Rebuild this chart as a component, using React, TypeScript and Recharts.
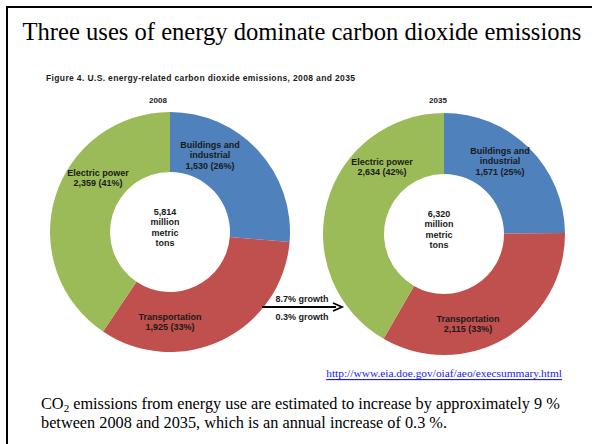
import React from "react"
import { PieChart, Pie, Cell } from "recharts"

const sectors = ["Buildings and industrial", "Transportation", "Electric power"]
const labelLines = [["Buildings and", "industrial"], ["Transportation"], ["Electric power"]]
const colors = ["#4F81BD", "#C0504D", "#9BBB59"]
const values2008 = [1530, 1925, 2359]
const values2035 = [1571, 2115, 2634]
const totals = ["5,814", "6,320"]
const years = ["2008", "2035"]

const data2008 = sectors.map((name, i) => ({ name, value: values2008[i] }))
const data2035 = sectors.map((name, i) => ({ name, value: values2035[i] }))

// where each slice label block sits, relative to the donut centre
const offsets2008 = [[40, -77], [0, 90], [-72, -54]]
const offsets2035 = [[56, -73], [24, 90], [-62, -67]]

const txt = "#1a1a1a"
const sans = "'Liberation Sans', Arial, sans-serif"
const serif = "'Liberation Serif', 'Times New Roman', serif"

function makeLabel(values: number[], offsets: number[][]) {
  const total = values.reduce((a, b) => a + b, 0)
  return (props: any) => {
    const { cx, cy, index } = props
    const lines = [
      ...labelLines[index],
      `${values[index].toLocaleString("en-US")} (${Math.round((values[index] / total) * 100)}%)`,
    ]
    const [dx, dy] = offsets[index]
    const top = cy + dy - ((lines.length - 1) * 10.5) / 2
    return (
      <text
        key={`l-${index}`}
        x={cx + dx}
        textAnchor="middle"
        fontFamily={sans}
        fontWeight="bold"
        fontSize={9}
        fill={txt}
      >
        {lines.map((t, j) => (
          <tspan key={j} x={cx + dx} y={top + j * 10.5} dominantBaseline="central">
            {t}
          </tspan>
        ))}
      </text>
    )
  }
}

export default function App() {
  const centres = [
    [165, 227],
    [439, 229],
  ]
  return (
    <div style={{ position: "absolute", left: 0, top: 0, width: 592, height: 444, background: "#fff" }}>
      <div
        style={{
          position: "absolute",
          left: 6,
          top: 6,
          width: 592,
          height: 444,
          borderTop: "2px solid #000",
          borderLeft: "2px solid #000",
        }}
      />
      <PieChart width={592} height={444} style={{ position: "absolute", left: 0, top: 0 }}>
        <Pie
          data={data2008}
          dataKey="value"
          cx={centres[0][0]}
          cy={centres[0][1]}
          innerRadius={60}
          outerRadius={120}
          startAngle={90}
          endAngle={-270}
          stroke="none"
          labelLine={false}
          label={makeLabel(values2008, offsets2008)}
          isAnimationActive={false}
        >
          {data2008.map((d, i) => (
            <Cell key={d.name} fill={colors[i]} />
          ))}
        </Pie>
        <Pie
          data={data2035}
          dataKey="value"
          cx={centres[1][0]}
          cy={centres[1][1]}
          innerRadius={60}
          outerRadius={121}
          startAngle={90}
          endAngle={-270}
          stroke="none"
          labelLine={false}
          label={makeLabel(values2035, offsets2035)}
          isAnimationActive={false}
        >
          {data2035.map((d, i) => (
            <Cell key={d.name} fill={colors[i]} />
          ))}
        </Pie>
      </PieChart>
      <svg width={592} height={444} style={{ position: "absolute", left: 0, top: 0, pointerEvents: "none" }}>
        <text x={302} y={31} textAnchor="middle" dominantBaseline="central" fontFamily={serif} fontSize={24.6} fill="#000">
          Three uses of energy dominate carbon dioxide emissions
        </text>
        <text
          x={46}
          y={78}
          dominantBaseline="central"
          fontFamily={sans}
          fontWeight="bold"
          fontSize={8.5}
          fill={txt}
          textLength={309}
          lengthAdjust="spacing"
        >
          Figure 4. U.S. energy-related carbon dioxide emissions, 2008 and 2035
        </text>
        {years.map((y, i) => (
          <text
            key={y}
            x={centres[i][0] - (i === 0 ? 7 : 1)}
            y={100}
            textAnchor="middle"
            dominantBaseline="central"
            fontFamily={sans}
            fontWeight="bold"
            fontSize={8}
            fill={txt}
          >
            {y}
          </text>
        ))}
        {totals.map((t, i) =>
          [t, "million", "metric", "tons"].map((s, j) => (
            <text
              key={`${i}-${j}`}
              x={centres[i][0]}
              y={centres[i][1] - 15 + j * 10.3}
              textAnchor="middle"
              dominantBaseline="central"
              fontFamily={sans}
              fontWeight="bold"
              fontSize={9}
              fill={txt}
            >
              {s}
            </text>
          ))
        )}
        <line x1={262} y1={307} x2={336} y2={307} stroke="#000" strokeWidth={1.8} />
        <path d="M333,303 L342,307 L333,311" fill="none" stroke="#000" strokeWidth={1.8} />
        <text x={302} y={299} textAnchor="middle" dominantBaseline="central" fontFamily={sans} fontWeight="bold" fontSize={9} fill={txt}>
          8.7% growth
        </text>
        <text x={302} y={317} textAnchor="middle" dominantBaseline="central" fontFamily={sans} fontWeight="bold" fontSize={9} fill={txt}>
          0.3% growth
        </text>
        <text x={562} y={373} textAnchor="end" dominantBaseline="central" fontFamily={serif} fontSize={11.4} fill="#1a1aee" textDecoration="underline">
          http://www.eia.doe.gov/oiaf/aeo/execsummary.html
        </text>
        <text x={41} y={409} fontFamily={serif} fontSize={16.3} fill="#000">
          CO<tspan dy={3} fontSize={11}>2</tspan>
          <tspan dy={-3}> emissions from energy use are estimated to increase by approximately 9 %</tspan>
        </text>
        <text x={41} y={428} fontFamily={serif} fontSize={16.3} fill="#000">
          between 2008 and 2035, which is an annual increase of 0.3 %.
        </text>
      </svg>
    </div>
  )
}
